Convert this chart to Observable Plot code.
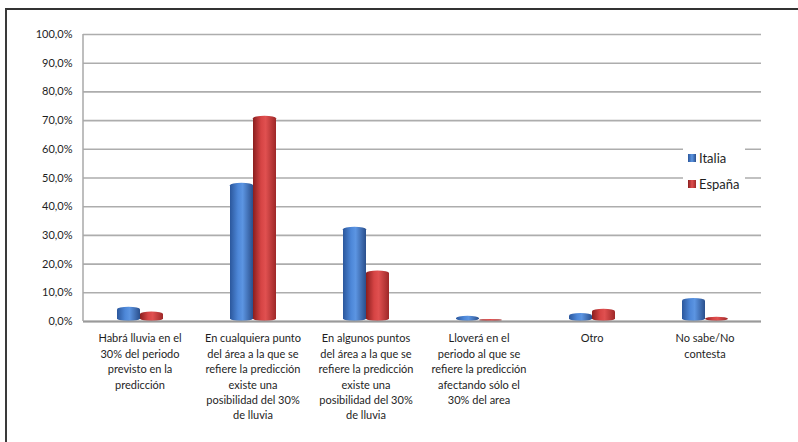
<!DOCTYPE html>
<html>
<head>
<meta charset="utf-8">
<script src="https://cdn.jsdelivr.net/npm/d3@7"></script>
<script src="https://cdn.jsdelivr.net/npm/@observablehq/plot@0.6"></script>
<style>
  html, body { margin: 0; padding: 0; background: #fff; }
  #wrap { position: relative; width: 798px; height: 442px; overflow: hidden; background: #fff; }
  #border { position: absolute; left: 5px; top: 8px; width: 900px; height: 600px;
            border-top: 2px solid #333; border-left: 2px solid #3a3a3a; pointer-events: none; }
  #legend { position: absolute; left: 683px; top: 146px; width: 62px; height: 50px; background: #fff;
            font-family: Lato, "Open Sans", sans-serif; font-size: 13px; color: #1e1e1e; }
  .lg-row { position: absolute; left: 5px; display: flex; align-items: center; height: 16px; }
  .sw { width: 8px; height: 8px; margin-right: 3px; }
</style>
</head>
<body>
<div id="wrap">
  <div id="chart"></div>
  <div id="border"></div>
  <div id="legend"></div>
</div>
<script>
const categories = [
  "Habrá lluvia en el\n30% del periodo\nprevisto en la\npredicción",
  "En cualquiera punto\ndel área a la que se\nrefiere la predicción\nexiste una\nposibilidad del 30%\nde lluvia",
  "En algunos puntos\ndel área a la que se\nrefiere la predicción\nexiste una\nposibilidad del 30%\nde lluvia",
  "Lloverá en el\nperiodo al que se\nrefiere la predicción\nafectando sólo el\n30% del area",
  "Otro",
  "No sabe/No\ncontesta"
];
const series = ["Italia", "España"];
const italia = [5.0, 48.2, 32.8, 1.8, 2.8, 8.0];
const espana = [3.3, 71.5, 17.6, 0.7, 4.3, 1.5];
const yTicks = [0, 10, 20, 30, 40, 50, 60, 70, 80, 90, 100];

const seriesColors = {
  "Italia": ["#2b579c", "#4d87d8", "#5c95e2", "#2a4f8c"],
  "España": ["#8a1e1e", "#d64444", "#e05050", "#9e2828"]
};
const gradIds = {"Italia": "gIt", "España": "gEs"};

const data = categories.flatMap((c, i) => [
  {cat: c, s: series[0], v: italia[i]},
  {cat: c, s: series[1], v: espana[i]}
]);

const fmt = d => d.toFixed(1).replace(".", ",") + "%";

const plot = Plot.plot({
  width: 798,
  height: 442,
  marginLeft: 80,
  marginRight: 35,
  marginTop: 34,
  marginBottom: 121,
  style: {fontFamily: "Lato, 'Open Sans', sans-serif", fontSize: "11px", color: "#1e1e1e", background: "transparent"},
  fx: {domain: categories, padding: 0, label: null},
  x: {domain: series, paddingInner: 0, paddingOuter: 1.375, axis: null},
  y: {domain: [0, 100], axis: null},
  marks: [
    Plot.ruleY(yTicks, {y: d => d, stroke: "#adadad", strokeWidth: 1.6}),
    Plot.barY(data.filter(d => d.s === series[0]), {fx: "cat", x: "s", y: "v", fill: "url(#gIt)", rx: 12, ry: 2.5}),
    Plot.barY(data.filter(d => d.s === series[1]), {fx: "cat", x: "s", y: "v", fill: "url(#gEs)", rx: 12, ry: 2.5}),
    Plot.ruleY([0], {stroke: "#9a9a9a", strokeWidth: 2}),
    Plot.axisY(yTicks, {tickSize: 0, tickPadding: 11, tickFormat: fmt, fontSize: 11, label: null}),
    Plot.axisFx({anchor: "bottom", tickSize: 0, tickPadding: 10, lineHeight: 1.4, label: null, tickFormat: d => d})
  ]
});

document.getElementById("chart").appendChild(plot);

// gradients for cylinder-like bars
const svg = d3.select(plot);
const defs = svg.insert("defs", ":first-child");
for (const s of series) {
  const c = seriesColors[s];
  const g = defs.append("linearGradient").attr("id", gradIds[s]).attr("x1", "0").attr("x2", "1").attr("y1", "0").attr("y2", "0");
  g.append("stop").attr("offset", "0%").attr("stop-color", c[0]);
  g.append("stop").attr("offset", "35%").attr("stop-color", c[1]);
  g.append("stop").attr("offset", "55%").attr("stop-color", c[2]);
  g.append("stop").attr("offset", "100%").attr("stop-color", c[3]);
}

// y axis line drawn from library scales
const fxs = plot.scale("fx");
const ys = plot.scale("y");
const x0 = fxs.apply(categories[0]);
svg.append("line")
  .attr("x1", x0).attr("x2", x0)
  .attr("y1", ys.apply(100)).attr("y2", ys.apply(0))
  .attr("stroke", "#a8a8a8").attr("stroke-width", 1.5);

// legend
const legend = document.getElementById("legend");
series.forEach((s, i) => {
  const row = document.createElement("div");
  row.className = "lg-row";
  row.style.top = (4 + i * 26) + "px";
  const c = seriesColors[s];
  row.innerHTML = `<span class="sw" style="background:linear-gradient(90deg, ${c[0]}, ${c[2]} 50%, ${c[3]})"></span><span>${s}</span>`;
  legend.appendChild(row);
});
</script>
</body>
</html>
